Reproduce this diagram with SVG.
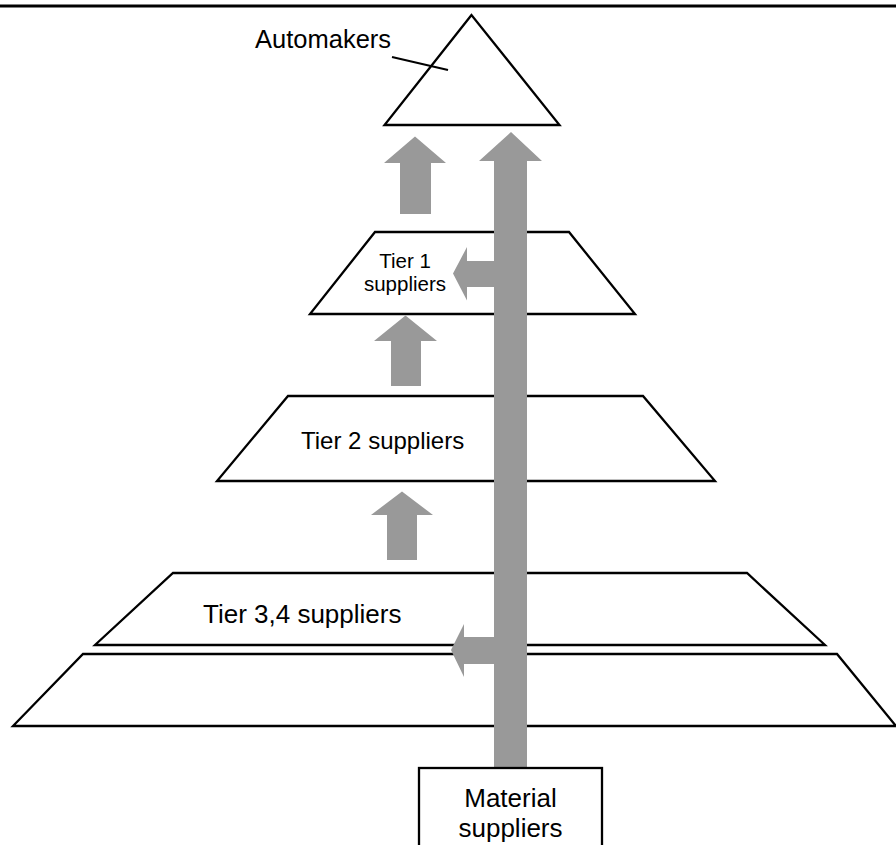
<svg xmlns="http://www.w3.org/2000/svg" width="896" height="845" viewBox="0 0 896 845">
  <style>
    .shape { fill: #ffffff; stroke: #000000; stroke-width: 2.3; stroke-linejoin: miter; }
    .lbl { font-family: "Liberation Sans", Arial, sans-serif; fill: #000000; }
    .arrow { fill: #999999; stroke: none; }
  </style>
  <rect x="0" y="0" width="896" height="845" fill="#ffffff"/>
  <line x1="0" y1="6" x2="896" y2="6" stroke="#000000" stroke-width="3"/>

  <g id="automakers">
    <polygon class="shape" points="471.5,15 384.5,125 559.5,125"/>
    <line x1="392" y1="57" x2="448" y2="70" stroke="#000000" stroke-width="2"/>
    <text class="lbl" x="255" y="48" font-size="25.5">Automakers</text>
  </g>

  <g id="tier1">
    <polygon class="shape" points="375,232 569,232 635,314 310,314"/>
    <text class="lbl" x="405" y="268" font-size="20.5" text-anchor="middle">Tier 1</text>
    <text class="lbl" x="405" y="291" font-size="20.5" text-anchor="middle">suppliers</text>
  </g>

  <g id="tier2">
    <polygon class="shape" points="288,396 643,396 715,481 217,481"/>
    <text class="lbl" x="301" y="449" font-size="24">Tier 2 suppliers</text>
  </g>

  <g id="tier34">
    <polygon class="shape" points="173,573 747,573 825,645 95,645"/>
    <text class="lbl" x="203" y="623" font-size="26">Tier 3,4 suppliers</text>
  </g>

  <g id="tier34-base">
    <polygon class="shape" points="83,654 837,654 896,726 13,726"/>
  </g>

  <g id="connectors">
    <polygon class="arrow" points="494,768 494,161 479,161 511,132 542,161 527,161 527,768"/>
    <polygon class="arrow" points="494,261 467,261 467,247 453,273.5 467,300.5 467,287 494,287"/>
    <polygon class="arrow" points="494,637 464,637 464,624 451,650 464,677 464,664 494,664"/>
    <polygon class="arrow" points="400,214 400,163 384,163 415,136.5 446,163 431,163 431,214"/>
    <polygon class="arrow" points="391,386 391,341 374,341 405.5,315.5 437,341 421,341 421,386"/>
    <polygon class="arrow" points="387,560 387,515 371,515 402,491.5 433,515 417,515 417,560"/>
  </g>

  <g id="material">
    <rect class="shape" x="419" y="768" width="183" height="90"/>
    <text class="lbl" x="510.5" y="807" font-size="26" text-anchor="middle">Material</text>
    <text class="lbl" x="510.5" y="837" font-size="26" text-anchor="middle">suppliers</text>
  </g>
</svg>
